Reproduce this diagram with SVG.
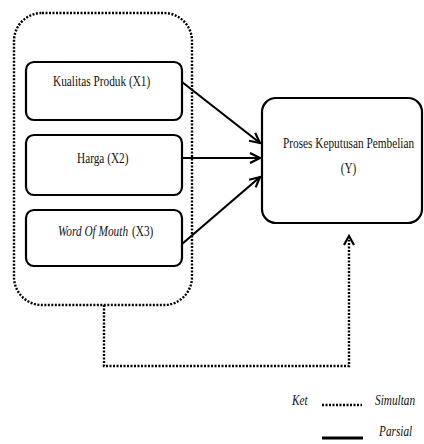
<svg xmlns="http://www.w3.org/2000/svg" width="424" height="444" viewBox="0 0 424 444">
<style>
.box{fill:#fff;stroke:#000;stroke-width:2.2}
.dot{fill:none;stroke:#000;stroke-width:2.4;stroke-dasharray:2 1.5}
.arr{fill:none;stroke:#000;stroke-width:2.2}
text{font-family:"Liberation Serif","Times New Roman",serif;fill:#111;font-size:11.3px}
.it{font-style:italic}
</style>
<defs>
<marker id="ah" markerUnits="userSpaceOnUse" markerWidth="14" markerHeight="14" refX="11" refY="6" orient="auto" viewBox="0 0 14 12">
<path d="M1,1 L11,6 L1,11" fill="none" stroke="#000" stroke-width="2.2"/>
</marker>
</defs>
<rect width="424" height="444" fill="#fff"/>
<rect id="group" class="dot" x="14" y="13" width="178" height="292" rx="28"/>
<g id="x1">
<rect class="box" x="26" y="62" width="156" height="58" rx="8"/>
<text transform="translate(53,86) scale(1,1.3)">Kualitas Produk (X1)</text>
</g>
<g id="x2">
<rect class="box" x="26" y="135" width="156" height="60" rx="8"/>
<text transform="translate(77,163) scale(1,1.3)">Harga (X2)</text>
</g>
<g id="x3">
<rect class="box" x="26" y="210" width="156" height="56" rx="8"/>
<text class="it" transform="translate(58,236) scale(1,1.3)">Word Of Mouth</text>
<text transform="translate(132,236) scale(1,1.3)">(X3)</text>
</g>
<g id="y">
<rect class="box" x="262" y="98" width="160" height="125" rx="14"/>
<text transform="translate(283,148) scale(1,1.3)">Proses Keputusan Pembelian</text>
<text text-anchor="middle" transform="translate(348.5,173) scale(1,1.3)">(Y)</text>
</g>
<g id="connectors">
<line class="arr" x1="182" y1="82" x2="260" y2="143" marker-end="url(#ah)"/>
<line class="arr" x1="182" y1="158" x2="260" y2="158" marker-end="url(#ah)"/>
<line class="arr" x1="182" y1="244" x2="260" y2="177" marker-end="url(#ah)"/>
<path class="dot" d="M104,305 V366 H349 V240"/>
<path d="M344,245 L349,236 L354,245" fill="none" stroke="#000" stroke-width="2.2"/>
</g>
<g id="legend">
<text class="it" transform="translate(292,405) scale(1,1.3)">Ket</text>
<line class="dot" x1="322" y1="405" x2="362" y2="405"/>
<text class="it" transform="translate(375,405) scale(1,1.3)">Simultan</text>
<line x1="322" y1="438" x2="363" y2="438" stroke="#000" stroke-width="3"/>
<text class="it" transform="translate(379,436) scale(1,1.3)">Parsial</text>
</g>
</svg>
